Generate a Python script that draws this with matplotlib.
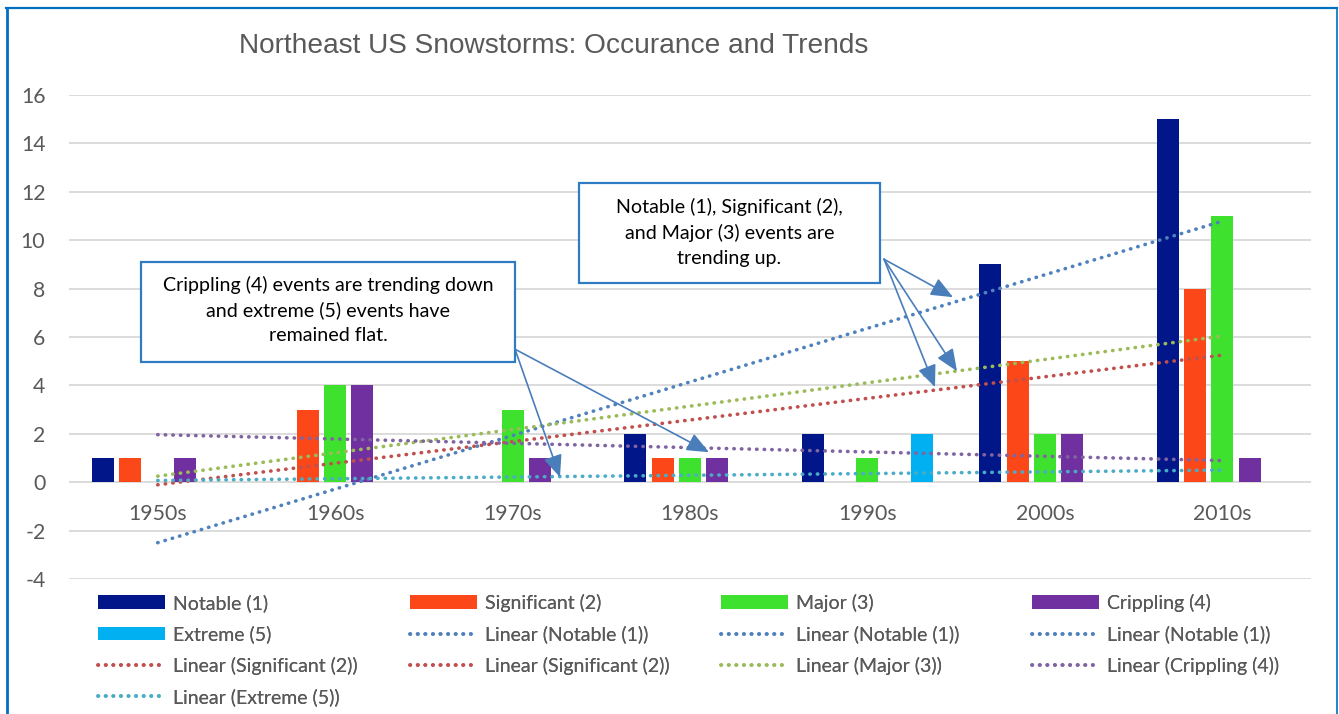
import numpy as np
import matplotlib
matplotlib.use("Agg")
import matplotlib.pyplot as plt
from matplotlib.patches import Rectangle, Patch
from matplotlib.lines import Line2D

plt.rcParams["axes.unicode_minus"] = False

# ---- data -------------------------------------------------------------
decades = ["1950s", "1960s", "1970s", "1980s", "1990s", "2000s", "2010s"]
notable = [1, 0, 0, 2, 2, 9, 15]
significant = [1, 3, 0, 1, 0, 5, 8]
major = [0, 4, 3, 1, 1, 2, 11]
crippling = [1, 4, 1, 1, 0, 2, 1]
extreme = [0, 0, 0, 0, 2, 0, 0]
series_names = ["Notable (1)", "Significant (2)", "Major (3)", "Crippling (4)", "Extreme (5)"]
y_ticks = list(range(-4, 17, 2))

# ---- styling ----------------------------------------------------------
bar_colors = ["#001689", "#FC4719", "#3EE22E", "#7030A0", "#00B0F0"]
trend_colors = ["#4F81BD", "#C0504D", "#9BBB59", "#8064A2", "#4BACC6"]
GRAY = "#595959"
GRID = "#D9D9D9"
BOX_EDGE = "#2F7CC4"
ARROW = "#4A7EBB"
BODY_FONT = ["Lato", "DejaVu Sans"]
TITLE_FONT = ["Liberation Sans", "DejaVu Sans"]

W, H = 1339, 714
fig = plt.figure(figsize=(W / 100, H / 100), dpi=100)


def fx(px):
    return px / W


def fy(py):
    return 1 - py / H


ax = fig.add_axes([fx(69), fy(579), (1311 - 69) / W, (579 - 95) / H])
ax.set_xlim(-0.5, len(decades) - 0.5)
ax.set_ylim(-4, 16)

# horizontal gridlines
ax.set_yticks(y_ticks)
ax.yaxis.grid(True, color=GRID, linewidth=1.3, zorder=0)
ax.set_axisbelow(True)
for s in ax.spines.values():
    s.set_visible(False)
ax.spines["bottom"].set_position(("data", 0))
ax.tick_params(axis="both", length=0, labelcolor=GRAY, labelsize=15.3)
ax.tick_params(axis="y", pad=17)
ax.tick_params(axis="x", pad=16)
ax.set_xticks(range(len(decades)))
ax.set_xticklabels(decades)
for lab in ax.get_xticklabels() + ax.get_yticklabels():
    lab.set_fontfamily(BODY_FONT)

# clustered bars
x = np.arange(len(decades))
series = [notable, significant, major, crippling, extreme]
step, bw = 0.154, 0.124
bar_handles = []
for i, (vals, col, name) in enumerate(zip(series, bar_colors, series_names)):
    ax.bar(x + (i - 2) * step, vals, width=bw, color=col, zorder=2)
    bar_handles.append(Patch(facecolor=col, label=name))

# linear trendlines (least-squares fit per series)
trend_handles = []
for vals, col, name in zip(series, trend_colors, series_names):
    coef = np.polyfit(x, vals, 1)
    xe = np.array([x[0], x[-1]])
    (ln,) = ax.plot(xe, np.polyval(coef, xe), color=col, linewidth=2.6,
                    linestyle=(0, (0.1, 2.0)), dash_capstyle="round", zorder=3,
                    label=f"Linear ({name})")
    trend_handles.append(ln)

# title
fig.text(fx(554), fy(46), "Northeast US Snowstorms: Occurance and Trends",
         ha="center", va="center", fontsize=20.2, color=GRAY, family=TITLE_FONT)

# legend laid out in four columns, row by row
tn, ts, tm, tc, te = trend_handles
nb, sb, mb, cb, eb = bar_handles
columns = [
    [nb, eb, ts, te],
    [sb, tn, ts],
    [mb, tn, tm],
    [cb, tn, tc],
]
col_x = [98, 410, 721, 1032]
for hs, cx in zip(columns, col_x):
    leg = fig.legend(handles=hs, labels=[h.get_label() for h in hs],
                     loc="upper left", bbox_to_anchor=(fx(cx), fy(594)),
                     frameon=False, borderpad=0, borderaxespad=0,
                     handlelength=3.45, handleheight=0.7, handletextpad=0.4,
                     labelspacing=0.69, prop={"family": BODY_FONT, "size": 14})
    for t in leg.get_texts():
        t.set_color(GRAY)
    fig.add_artist(leg)

# callout boxes


def px2data(px, py):
    return ((px - 69) / 177.43 - 0.5, (482 - py) / 24.2)


def callout(x0, y0, x1, y1, lines, tips, origin):
    (dx0, dy1) = px2data(x0, y0)
    (dx1, dy0) = px2data(x1, y1)
    ax.add_patch(Rectangle((dx0, dy0), dx1 - dx0, dy1 - dy0, facecolor="white",
                           edgecolor=BOX_EDGE, linewidth=1.6, zorder=5))
    cx = (dx0 + dx1) / 2
    for txt, ly in lines:
        ax.text(cx, px2data(0, ly)[1], txt, ha="center", va="center",
                fontsize=14.1, color="black", family=BODY_FONT, zorder=6)
    ox, oy = px2data(*origin)
    for tx, ty in tips:
        ax.annotate("", xy=px2data(tx, ty), xytext=(ox, oy),
                    arrowprops=dict(arrowstyle="-|>,head_length=0.9,head_width=0.38",
                                    color=ARROW, lw=1.2, shrinkA=0, shrinkB=0,
                                    mutation_scale=15),
                    zorder=4)


callout(141, 262, 515, 362,
        [("Crippling (4) events are trending down", 285),
         ("and extreme (5) events have", 310),
         ("remained flat.", 335)],
        [(560, 477), (709, 452)], (515, 349))
callout(579, 183, 880, 283,
        [("Notable (1), Significant (2),", 207),
         ("and Major (3) events are", 233),
         ("trending up.", 258)],
        [(953, 297), (957, 371), (935, 387)], (884, 259))

# chart area border
BORDER = "#0070C0"
fig.add_artist(Line2D([fx(7), fx(7)], [fy(8), 0], color=BORDER, lw=2.0,
                      transform=fig.transFigure))
fig.add_artist(Line2D([fx(6), fx(1337)], [fy(8), fy(8)], color=BORDER, lw=1.6,
                      transform=fig.transFigure))
fig.add_artist(Line2D([fx(1337), fx(1337)], [fy(8), 0], color=BORDER, lw=1.2,
                      transform=fig.transFigure))

fig.savefig("out.png", dpi=100)
